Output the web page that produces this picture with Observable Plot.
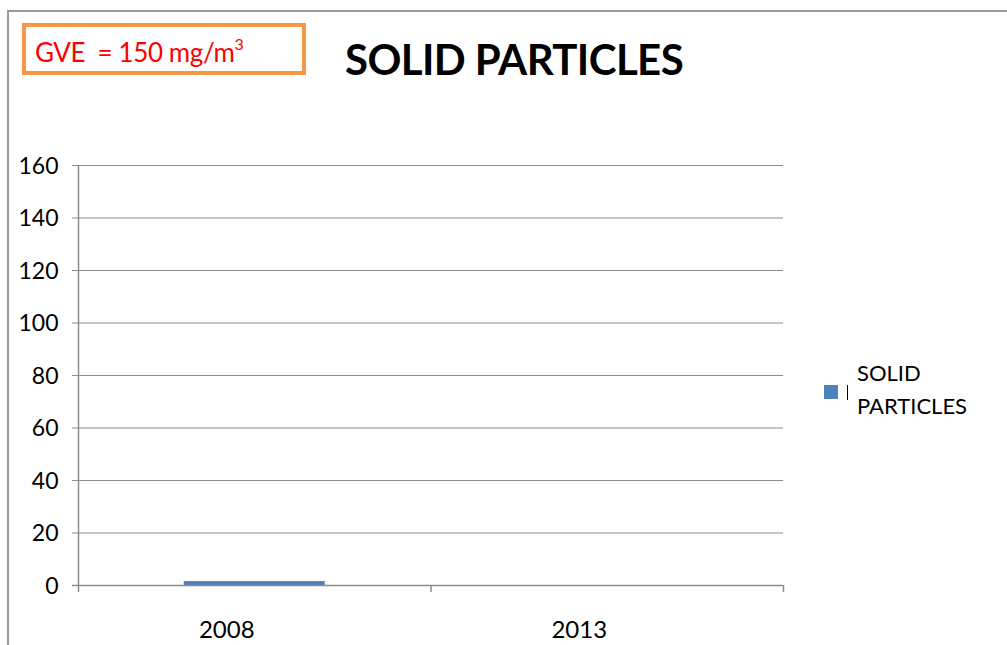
<!DOCTYPE html>
<html><head><meta charset="utf-8">
<script src="https://cdn.jsdelivr.net/npm/d3@7"></script>
<script src="https://cdn.jsdelivr.net/npm/@observablehq/plot@0.6"></script>
<style>
body{margin:0;background:#fff;font-family:Lato,"Open Sans",sans-serif;}
#wrap{position:relative;width:1007px;height:645px;overflow:hidden;}
#frame{position:absolute;left:7px;top:10px;width:1100px;height:700px;border-left:2px solid #9a9a9a;border-top:2px solid #9a9a9a;}
#gve{position:absolute;left:22px;top:23px;width:276px;height:44px;border:4px solid #F79646;box-sizing:content-box;}
#gve span{position:absolute;left:9px;top:9px;color:#ff0000;font-size:26px;white-space:pre;letter-spacing:-0.4px;}
#title{position:absolute;left:345px;top:34px;font-size:42px;font-weight:bold;color:#000;white-space:nowrap;letter-spacing:-0.6px;}
#legend{position:absolute;left:824px;top:356px;font-size:22px;color:#000;}
#chart{position:absolute;left:0;top:0;}
</style></head>
<body><div id="wrap"><div id="frame"></div><div id="chart"></div>
<div id="gve"><span>GVE  = 150 mg/m<sup style="font-size:16px;vertical-align:12px;line-height:0">3</sup></span></div>
<div id="title">SOLID PARTICLES</div>
<div id="legend">
<div style="position:absolute;left:0;top:29px;width:14px;height:14px;background:#4F81BD"></div>
<div style="position:absolute;left:23px;top:29px;width:1px;height:15px;background:#000"></div>
<div style="position:absolute;left:33px;top:0;line-height:33px;white-space:nowrap">SOLID<br>PARTICLES</div>
</div>
</div>
<script>
const categories = ["2008", "2013"];
const values = [1.5, 0];
const seriesName = "SOLID PARTICLES";
const yTicks = [0, 20, 40, 60, 80, 100, 120, 140, 160];

const data = categories.map((c, i) => ({cat: c, i, value: values[i]}));
const bandW = 705 / 2;

const plot = Plot.plot({
  width: 1007, height: 645,
  marginLeft: 78, marginRight: 224, marginTop: 165, marginBottom: 60,
  style: {fontFamily: "Lato, 'Open Sans', sans-serif", background: "transparent"},
  x: {domain: [0, categories.length], axis: null},
  y: {domain: [0, 160], axis: null},
  marks: [
    Plot.ruleY(yTicks.filter(d => d > 0), {x1: 0, x2: categories.length, stroke: "#8c8c8c", strokeWidth: 1, insetLeft: -6}),
    Plot.rectY(data.filter(d => d.value > 0), {x1: d => d.i, x2: d => d.i + 1, y1: 0, y2: "value", fill: "#4F81BD", insetLeft: bandW * 0.3, insetRight: bandW * 0.3}),
    Plot.ruleX([0], {y1: 0, y2: 160, stroke: "#8c8c8c", strokeWidth: 1.5}),
    Plot.ruleY([0], {x1: 0, x2: categories.length, stroke: "#8c8c8c", strokeWidth: 1.5, insetLeft: -6}),
    Plot.ruleX(d3.range(0, categories.length + 1), {y1: 0, y2: 0, stroke: "#8c8c8c", strokeWidth: 1.5, insetBottom: -7}),
    Plot.text(yTicks, {x: 0, y: d => d, text: d => String(d), textAnchor: "end", dx: -20, dy: 1, fontSize: 23, fill: "#000"}),
    Plot.text(data, {x: d => d.i + 0.5, y: 0, text: "cat", dy: 45, dx: -28, fontSize: 24, fill: "#000"})
  ]
});
document.getElementById("chart").appendChild(plot);
</script>
</body></html>
